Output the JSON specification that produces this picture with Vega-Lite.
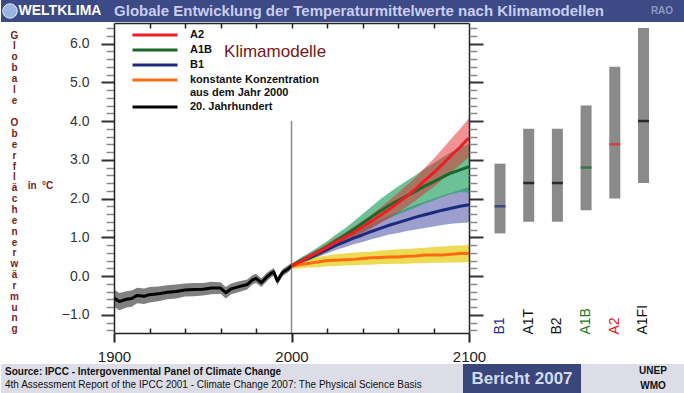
{
  "$schema": "https://vega.github.io/schema/vega-lite/v6.json",
  "padding": 0,
  "background": "#ffffff",
  "spacing": 0,
  "config": {
    "font": "Liberation Sans",
    "view": {"stroke": null},
    "concat": {"spacing": 0},
    "axis": {"labelFont": "Liberation Sans", "titleFont": "Liberation Sans"},
    "legend": {"labelFont": "Liberation Sans"}
  },
  "datasets": {
    "ts": [
      {"series":"20. Jahrhundert","year":1900,"mean":-0.57,"lo":-0.79,"hi":-0.35},
      {"series":"20. Jahrhundert","year":1903,"mean":-0.66,"lo":-0.88,"hi":-0.44},
      {"series":"20. Jahrhundert","year":1907,"mean":-0.60,"lo":-0.81,"hi":-0.39},
      {"series":"20. Jahrhundert","year":1910,"mean":-0.58,"lo":-0.79,"hi":-0.37},
      {"series":"20. Jahrhundert","year":1913,"mean":-0.50,"lo":-0.70,"hi":-0.30},
      {"series":"20. Jahrhundert","year":1917,"mean":-0.52,"lo":-0.72,"hi":-0.32},
      {"series":"20. Jahrhundert","year":1920,"mean":-0.48,"lo":-0.68,"hi":-0.28},
      {"series":"20. Jahrhundert","year":1925,"mean":-0.46,"lo":-0.65,"hi":-0.27},
      {"series":"20. Jahrhundert","year":1930,"mean":-0.42,"lo":-0.60,"hi":-0.24},
      {"series":"20. Jahrhundert","year":1935,"mean":-0.40,"lo":-0.58,"hi":-0.22},
      {"series":"20. Jahrhundert","year":1940,"mean":-0.36,"lo":-0.53,"hi":-0.19},
      {"series":"20. Jahrhundert","year":1945,"mean":-0.35,"lo":-0.52,"hi":-0.18},
      {"series":"20. Jahrhundert","year":1950,"mean":-0.34,"lo":-0.50,"hi":-0.18},
      {"series":"20. Jahrhundert","year":1955,"mean":-0.31,"lo":-0.47,"hi":-0.15},
      {"series":"20. Jahrhundert","year":1960,"mean":-0.31,"lo":-0.46,"hi":-0.16},
      {"series":"20. Jahrhundert","year":1963,"mean":-0.43,"lo":-0.58,"hi":-0.28},
      {"series":"20. Jahrhundert","year":1966,"mean":-0.33,"lo":-0.47,"hi":-0.19},
      {"series":"20. Jahrhundert","year":1970,"mean":-0.28,"lo":-0.42,"hi":-0.14},
      {"series":"20. Jahrhundert","year":1975,"mean":-0.22,"lo":-0.35,"hi":-0.09},
      {"series":"20. Jahrhundert","year":1978,"mean":-0.10,"lo":-0.22,"hi":0.02},
      {"series":"20. Jahrhundert","year":1980,"mean":-0.06,"lo":-0.18,"hi":0.06},
      {"series":"20. Jahrhundert","year":1983,"mean":-0.17,"lo":-0.28,"hi":-0.06},
      {"series":"20. Jahrhundert","year":1986,"mean":-0.03,"lo":-0.14,"hi":0.08},
      {"series":"20. Jahrhundert","year":1988,"mean":0.05,"lo":-0.05,"hi":0.15},
      {"series":"20. Jahrhundert","year":1990,"mean":0.11,"lo":0.01,"hi":0.21},
      {"series":"20. Jahrhundert","year":1992,"mean":-0.13,"lo":-0.23,"hi":-0.03},
      {"series":"20. Jahrhundert","year":1995,"mean":0.09,"lo":0.00,"hi":0.18},
      {"series":"20. Jahrhundert","year":1998,"mean":0.18,"lo":0.09,"hi":0.27},
      {"series":"20. Jahrhundert","year":2000,"mean":0.26,"lo":0.18,"hi":0.34},

      {"series":"B1","year":2000,"mean":0.26,"lo":0.21,"hi":0.31},
      {"series":"B1","year":2005,"mean":0.37,"lo":0.31,"hi":0.43},
      {"series":"B1","year":2010,"mean":0.46,"lo":0.39,"hi":0.53},
      {"series":"B1","year":2015,"mean":0.58,"lo":0.50,"hi":0.67},
      {"series":"B1","year":2020,"mean":0.68,"lo":0.58,"hi":0.78},
      {"series":"B1","year":2025,"mean":0.79,"lo":0.67,"hi":0.91},
      {"series":"B1","year":2030,"mean":0.88,"lo":0.74,"hi":1.02},
      {"series":"B1","year":2035,"mean":0.98,"lo":0.82,"hi":1.14},
      {"series":"B1","year":2040,"mean":1.06,"lo":0.88,"hi":1.24},
      {"series":"B1","year":2045,"mean":1.15,"lo":0.95,"hi":1.35},
      {"series":"B1","year":2050,"mean":1.23,"lo":1.01,"hi":1.45},
      {"series":"B1","year":2055,"mean":1.31,"lo":1.07,"hi":1.56},
      {"series":"B1","year":2060,"mean":1.38,"lo":1.11,"hi":1.65},
      {"series":"B1","year":2065,"mean":1.45,"lo":1.16,"hi":1.75},
      {"series":"B1","year":2070,"mean":1.52,"lo":1.20,"hi":1.84},
      {"series":"B1","year":2075,"mean":1.58,"lo":1.24,"hi":1.92},
      {"series":"B1","year":2080,"mean":1.64,"lo":1.28,"hi":2.00},
      {"series":"B1","year":2085,"mean":1.70,"lo":1.32,"hi":2.08},
      {"series":"B1","year":2090,"mean":1.75,"lo":1.35,"hi":2.15},
      {"series":"B1","year":2095,"mean":1.80,"lo":1.37,"hi":2.23},
      {"series":"B1","year":2100,"mean":1.84,"lo":1.38,"hi":2.30},

      {"series":"konstante Konzentration","year":2000,"mean":0.26,"lo":0.18,"hi":0.34},
      {"series":"konstante Konzentration","year":2005,"mean":0.30,"lo":0.20,"hi":0.40},
      {"series":"konstante Konzentration","year":2010,"mean":0.33,"lo":0.22,"hi":0.46},
      {"series":"konstante Konzentration","year":2015,"mean":0.36,"lo":0.23,"hi":0.49},
      {"series":"konstante Konzentration","year":2020,"mean":0.40,"lo":0.25,"hi":0.53},
      {"series":"konstante Konzentration","year":2025,"mean":0.41,"lo":0.26,"hi":0.56},
      {"series":"konstante Konzentration","year":2030,"mean":0.42,"lo":0.27,"hi":0.58},
      {"series":"konstante Konzentration","year":2035,"mean":0.43,"lo":0.28,"hi":0.60},
      {"series":"konstante Konzentration","year":2040,"mean":0.45,"lo":0.29,"hi":0.62},
      {"series":"konstante Konzentration","year":2045,"mean":0.47,"lo":0.29,"hi":0.63},
      {"series":"konstante Konzentration","year":2050,"mean":0.48,"lo":0.31,"hi":0.66},
      {"series":"konstante Konzentration","year":2055,"mean":0.49,"lo":0.31,"hi":0.67},
      {"series":"konstante Konzentration","year":2060,"mean":0.49,"lo":0.32,"hi":0.69},
      {"series":"konstante Konzentration","year":2065,"mean":0.51,"lo":0.32,"hi":0.70},
      {"series":"konstante Konzentration","year":2070,"mean":0.52,"lo":0.33,"hi":0.72},
      {"series":"konstante Konzentration","year":2075,"mean":0.54,"lo":0.33,"hi":0.73},
      {"series":"konstante Konzentration","year":2080,"mean":0.54,"lo":0.34,"hi":0.75},
      {"series":"konstante Konzentration","year":2085,"mean":0.54,"lo":0.34,"hi":0.76},
      {"series":"konstante Konzentration","year":2090,"mean":0.56,"lo":0.35,"hi":0.78},
      {"series":"konstante Konzentration","year":2095,"mean":0.58,"lo":0.35,"hi":0.79},
      {"series":"konstante Konzentration","year":2100,"mean":0.58,"lo":0.36,"hi":0.80},

      {"series":"A1B","year":2000,"mean":0.26,"lo":0.20,"hi":0.32},
      {"series":"A1B","year":2005,"mean":0.39,"lo":0.31,"hi":0.47},
      {"series":"A1B","year":2010,"mean":0.50,"lo":0.40,"hi":0.60},
      {"series":"A1B","year":2015,"mean":0.63,"lo":0.51,"hi":0.75},
      {"series":"A1B","year":2020,"mean":0.76,"lo":0.62,"hi":0.90},
      {"series":"A1B","year":2025,"mean":0.91,"lo":0.75,"hi":1.07},
      {"series":"A1B","year":2030,"mean":1.05,"lo":0.87,"hi":1.23},
      {"series":"A1B","year":2035,"mean":1.20,"lo":0.99,"hi":1.41},
      {"series":"A1B","year":2040,"mean":1.36,"lo":1.12,"hi":1.60},
      {"series":"A1B","year":2045,"mean":1.52,"lo":1.25,"hi":1.79},
      {"series":"A1B","year":2050,"mean":1.68,"lo":1.38,"hi":1.98},
      {"series":"A1B","year":2055,"mean":1.82,"lo":1.49,"hi":2.15},
      {"series":"A1B","year":2060,"mean":1.95,"lo":1.59,"hi":2.31},
      {"series":"A1B","year":2065,"mean":2.07,"lo":1.68,"hi":2.46},
      {"series":"A1B","year":2070,"mean":2.19,"lo":1.77,"hi":2.61},
      {"series":"A1B","year":2075,"mean":2.32,"lo":1.87,"hi":2.77},
      {"series":"A1B","year":2080,"mean":2.43,"lo":1.95,"hi":2.91},
      {"series":"A1B","year":2085,"mean":2.55,"lo":2.04,"hi":3.06},
      {"series":"A1B","year":2090,"mean":2.66,"lo":2.12,"hi":3.20},
      {"series":"A1B","year":2095,"mean":2.74,"lo":2.17,"hi":3.31},
      {"series":"A1B","year":2100,"mean":2.82,"lo":2.15,"hi":3.42},

      {"series":"A2","year":2000,"mean":0.26,"lo":0.21,"hi":0.31},
      {"series":"A2","year":2005,"mean":0.37,"lo":0.31,"hi":0.44},
      {"series":"A2","year":2010,"mean":0.50,"lo":0.42,"hi":0.58},
      {"series":"A2","year":2015,"mean":0.61,"lo":0.52,"hi":0.70},
      {"series":"A2","year":2020,"mean":0.74,"lo":0.64,"hi":0.84},
      {"series":"A2","year":2025,"mean":0.87,"lo":0.76,"hi":0.99},
      {"series":"A2","year":2030,"mean":0.99,"lo":0.86,"hi":1.12},
      {"series":"A2","year":2035,"mean":1.12,"lo":0.98,"hi":1.27},
      {"series":"A2","year":2040,"mean":1.27,"lo":1.11,"hi":1.43},
      {"series":"A2","year":2045,"mean":1.41,"lo":1.23,"hi":1.59},
      {"series":"A2","year":2050,"mean":1.56,"lo":1.36,"hi":1.76},
      {"series":"A2","year":2055,"mean":1.72,"lo":1.50,"hi":1.95},
      {"series":"A2","year":2060,"mean":1.89,"lo":1.64,"hi":2.14},
      {"series":"A2","year":2065,"mean":2.06,"lo":1.79,"hi":2.34},
      {"series":"A2","year":2070,"mean":2.25,"lo":1.95,"hi":2.55},
      {"series":"A2","year":2075,"mean":2.46,"lo":2.13,"hi":2.79},
      {"series":"A2","year":2080,"mean":2.66,"lo":2.30,"hi":3.02},
      {"series":"A2","year":2085,"mean":2.88,"lo":2.49,"hi":3.28},
      {"series":"A2","year":2090,"mean":3.11,"lo":2.68,"hi":3.54},
      {"series":"A2","year":2095,"mean":3.33,"lo":2.87,"hi":3.80},
      {"series":"A2","year":2100,"mean":3.57,"lo":3.07,"hi":4.07}
    ],
    "bars": [
      {"scen":"B1","lo":1.1,"hi":2.9,"best":1.8},
      {"scen":"A1T","lo":1.4,"hi":3.8,"best":2.4},
      {"scen":"B2","lo":1.4,"hi":3.8,"best":2.4},
      {"scen":"A1B","lo":1.7,"hi":4.4,"best":2.8},
      {"scen":"A2","lo":2.0,"hi":5.4,"best":3.4},
      {"scen":"A1FI","lo":2.4,"hi":6.4,"best":4.0}
    ]
  },
  "vconcat": [
    {
      "bounds": "flush",
      "spacing": 0,
      "hconcat": [
        {"width": 18, "height": 22, "view": {"fill": "#3c4a86", "stroke": null},
         "data": {"values": [{"k": "globe"}]},
         "mark": {"type": "point", "filled": true, "size": 210, "color": "#9db4e0", "stroke": "#e4eaf8", "strokeWidth": 1, "opacity": 1},
         "encoding": {}},
        {"width": 82, "height": 22, "view": {"fill": "#3c4a86", "stroke": null},
         "data": {"values": [{"t": "WELTKLIMA"}]},
         "mark": {"type": "text", "color": "#ffffff", "fontSize": 14, "fontWeight": "bold", "align": "center", "baseline": "middle"},
         "encoding": {"text": {"field": "t"}}},
        {"width": 516, "height": 22, "view": {"fill": "#3c4a86", "stroke": null},
         "data": {"values": [{"t": "Globale Entwicklung der Temperaturmittelwerte nach Klimamodellen"}]},
         "mark": {"type": "text", "color": "#c9cdf2", "fontSize": 15, "fontWeight": "bold", "align": "center", "baseline": "middle"},
         "encoding": {"text": {"field": "t"}}},
        {"width": 22, "height": 22, "view": {"fill": "#3c4a86", "stroke": null},
         "data": {"values": []},
         "mark": {"type": "text"},
         "encoding": {"text": {"field": "t"}}},
        {"width": 46, "height": 22, "view": {"fill": "#3c4a86", "stroke": null},
         "data": {"values": [{"t": "RAO"}]},
         "mark": {"type": "text", "color": "#8e98c4", "fontSize": 10, "fontWeight": "bold", "align": "center", "baseline": "middle"},
         "encoding": {"text": {"field": "t"}}}
      ]
    },
    {
      "bounds": "flush",
      "spacing": 0,
      "resolve": {"scale": {"color": "independent"}, "legend": {"color": "independent"}},
      "hconcat": [
        {
          "width": 468,
          "height": 310,
          "data": {"name": "ts"},
          "resolve": {"axis": {"x": "independent", "y": "independent"}},
          "layer": [
            {
              "transform": [{"filter": "datum.series === 'B1'"}],
              "mark": {"type": "area", "color": "#3a3f9c", "opacity": 0.5},
              "encoding": {
                "x": {"field": "year", "type": "quantitative", "scale": {"domain": [1900, 2100], "range": [113, 468], "nice": false, "zero": false},
                      "axis": {"orient": "bottom", "values": [1920,1940,1960,1980,2020,2040,2060,2080], "tickSize": -5, "tickWidth": 1.5, "tickColor": "#222222", "labels": false, "domain": false, "grid": false, "title": null, "zindex": 2}},
                "y": {"field": "lo", "type": "quantitative", "scale": {"domain": [-1.47, 6.53], "nice": false, "zero": false},
                      "axis": {"orient": "left", "offset": -113, "values": [-1.4,-1.2,-0.8,-0.6,-0.4,-0.2,0.2,0.4,0.6,0.8,1.2,1.4,1.6,1.8,2.2,2.4,2.6,2.8,3.2,3.4,3.6,3.8,4.2,4.4,4.6,4.8,5.2,5.4,5.6,5.8,6.2,6.4], "tickSize": 8, "tickWidth": 1.5, "tickColor": "#8a8a8a", "labels": false, "domain": false, "grid": false, "zindex": 2,
                               "title": ["O","b","e","r","f","l","ä","c","h","e","n","e","r","w","ä","r","m","u","n","g"],
                               "titleAngle": 0, "titleX": -100, "titleY": 99.7, "titleAlign": "center", "titleBaseline": "middle", "titleFontSize": 10, "titleFontWeight": "bold", "titleColor": "#7b1a1a", "titleLineHeight": 10.85}},
                "y2": {"field": "hi"}
              }
            },
            {
              "transform": [{"filter": "datum.series === 'A1B'"}],
              "mark": {"type": "area", "color": "#1fa060", "opacity": 0.65},
              "encoding": {
                "x": {"field": "year", "type": "quantitative", "scale": {"domain": [1900, 2100], "range": [113, 468], "nice": false, "zero": false},
                      "axis": {"orient": "top", "values": [1920,1940,1960,1980,2000,2020,2040,2060,2080], "tickSize": -5, "tickWidth": 1.5, "tickColor": "#222222", "labels": false, "domain": true, "domainColor": "#222222", "domainWidth": 1.5, "grid": false, "title": null, "zindex": 2}},
                "y": {"field": "lo", "type": "quantitative", "scale": {"domain": [-1.47, 6.53], "nice": false, "zero": false},
                      "axis": {"orient": "left", "offset": -113, "ticks": false, "labels": false, "domain": false, "grid": false, "title": "in\u00a0\u00a0°C", "titleAngle": 0, "titleX": -74, "titleY": 162, "titleAlign": "center", "titleBaseline": "middle", "titleFontSize": 10, "titleFontWeight": "bold", "titleColor": "#7b1a1a"}},
                "y2": {"field": "hi"}
              }
            },
            {
              "transform": [{"filter": "datum.series === 'A2'"}],
              "mark": {"type": "area", "color": "#e8262a", "opacity": 0.5},
              "encoding": {
                "x": {"field": "year", "type": "quantitative", "scale": {"domain": [1900, 2100], "range": [113, 468], "nice": false, "zero": false}, "axis": null},
                "y": {"field": "lo", "type": "quantitative", "scale": {"domain": [-1.47, 6.53], "nice": false, "zero": false},
                      "axis": {"orient": "right", "values": [-1,0,1,2,3,4,5,6], "tickSize": 14, "tickWidth": 2, "tickColor": "#333333", "labels": false, "domain": true, "domainColor": "#222222", "domainWidth": 1.5, "grid": false, "title": null, "zindex": 2}},
                "y2": {"field": "hi"}
              }
            },
            {
              "transform": [{"filter": "datum.series === 'konstante Konzentration'"}],
              "mark": {"type": "area", "color": "#e6cf1a", "opacity": 0.75},
              "encoding": {
                "x": {"field": "year", "type": "quantitative", "scale": {"domain": [1900, 2100], "range": [113, 468], "nice": false, "zero": false}, "axis": null},
                "y": {"field": "lo", "type": "quantitative", "scale": {"domain": [-1.47, 6.53], "nice": false, "zero": false},
                      "axis": {"orient": "right", "values": [-1.4,-1.2,-0.8,-0.6,-0.4,-0.2,0.2,0.4,0.6,0.8,1.2,1.4,1.6,1.8,2.2,2.4,2.6,2.8,3.2,3.4,3.6,3.8,4.2,4.4,4.6,4.8,5.2,5.4,5.6,5.8,6.2,6.4], "tickSize": 8, "tickWidth": 1.5, "tickColor": "#8a8a8a", "labels": false, "domain": false, "grid": false, "title": null, "zindex": 2}},
                "y2": {"field": "hi"}
              }
            },
            {
              "transform": [{"filter": "datum.series === '20. Jahrhundert'"}],
              "mark": {"type": "area", "color": "#808080", "opacity": 1},
              "encoding": {
                "x": {"field": "year", "type": "quantitative", "scale": {"domain": [1900, 2100], "range": [113, 468], "nice": false, "zero": false},
                      "axis": {"orient": "bottom", "values": [1900, 2000, 2100], "format": "d", "tickSize": 9, "tickWidth": 2, "tickColor": "#222222", "domain": true, "domainColor": "#222222", "domainWidth": 1.5, "labelFontSize": 15, "labelColor": "#222222", "labelPadding": 7, "labelFlush": false, "labelOverlap": false, "grid": false, "title": null, "zindex": 2}},
                "y": {"field": "lo", "type": "quantitative", "scale": {"domain": [-1.47, 6.53], "nice": false, "zero": false},
                      "axis": {"orient": "left", "offset": -113, "values": [-1,0,1,2,3,4,5,6], "format": ".1f", "tickSize": 13, "tickWidth": 2, "tickColor": "#333333", "domain": true, "domainColor": "#222222", "domainWidth": 1.5, "labelFontSize": 14, "labelColor": "#333333", "labelPadding": 12, "labelFlush": false, "grid": false, "zindex": 2,
                               "title": ["G","l","o","b","a","l","e"],
                               "titleAngle": 0, "titleX": -100, "titleY": 12, "titleAlign": "center", "titleBaseline": "middle", "titleFontSize": 10, "titleFontWeight": "bold", "titleColor": "#7b1a1a", "titleLineHeight": 10.85}},
                "y2": {"field": "hi"}
              }
            },
            {
              "data": {"values": [{"k": 1}]},
              "mark": {"type": "rule", "color": "#8a8a8a", "strokeWidth": 1.5},
              "encoding": {
                "x": {"datum": 2000, "type": "quantitative", "scale": {"domain": [1900, 2100], "range": [113, 468], "nice": false, "zero": false}, "axis": null},
                "y": {"datum": 4.0, "type": "quantitative", "scale": {"domain": [-1.47, 6.53], "nice": false, "zero": false}, "axis": null},
                "y2": {"datum": -1.47}
              }
            },
            {
              "mark": {"type": "line", "strokeWidth": 3, "strokeJoin": "round"},
              "encoding": {
                "x": {"field": "year", "type": "quantitative", "scale": {"domain": [1900, 2100], "range": [113, 468], "nice": false, "zero": false}, "axis": null},
                "y": {"field": "mean", "type": "quantitative", "scale": {"domain": [-1.47, 6.53], "nice": false, "zero": false}, "axis": null},
                "color": {
                  "field": "series", "type": "nominal",
                  "scale": {"domain": ["A2","A1B","B1","konstante Konzentration","20. Jahrhundert"], "range": ["#ee1d23","#19692b","#1c2a7d","#ff6a13","#000000"]},
                  "legend": {
                    "orient": "none", "legendX": 148, "legendY": 6, "title": null, "padding": 0,
                    "symbolType": "M-5,0H5", "symbolSize": 81, "symbolStrokeWidth": 3,
                    "labelOffset": 29, "labelFontSize": 11, "labelFontWeight": "bold", "labelColor": "#111111", "labelLimit": 300,
                    "rowPadding": 3,
                    "labelExpr": "datum.label === 'konstante Konzentration' ? ['konstante Konzentration', 'aus dem Jahr 2000'] : datum.label"
                  }
                }
              }
            },
            {
              "data": {"values": [{"label": "Klimamodelle"}]},
              "mark": {"type": "text", "align": "left", "baseline": "alphabetic", "fontSize": 17, "color": "#7a1515"},
              "encoding": {
                "x": {"datum": 1962, "type": "quantitative", "scale": {"domain": [1900, 2100], "range": [113, 468], "nice": false, "zero": false}, "axis": null},
                "y": {"datum": 5.65, "type": "quantitative", "scale": {"domain": [-1.47, 6.53], "nice": false, "zero": false}, "axis": null},
                "text": {"field": "label"}
              }
            }
          ]
        },
        {
          "width": 205.5,
          "height": 310,
          "data": {"name": "bars"},
          "layer": [
            {
              "mark": {"type": "bar", "color": "#8a8a8a"},
              "encoding": {
                "x": {"field": "scen", "type": "nominal", "sort": null,
                      "scale": {"type": "band", "paddingInner": 0.617, "paddingOuter": 0.889},
                      "axis": {"orient": "bottom", "labelAngle": -90, "labelAlign": "left", "labelBaseline": "middle", "labelPadding": 1, "ticks": false, "domain": false, "title": null, "labelFontSize": 14, "labelFont": "Liberation Sans",
                               "labelColor": {"condition": [{"test": "datum.value === 'B1'", "value": "#1f2d8a"}, {"test": "datum.value === 'A1B'", "value": "#1a7a2a"}, {"test": "datum.value === 'A2'", "value": "#ee1111"}], "value": "#111111"}}},
                "y": {"field": "lo", "type": "quantitative", "scale": {"domain": [-1.47, 6.53], "nice": false, "zero": false}, "axis": null},
                "y2": {"field": "hi"}
              }
            },
            {
              "mark": {"type": "tick", "thickness": 2.5, "size": 11},
              "encoding": {
                "x": {"field": "scen", "type": "nominal", "sort": null},
                "y": {"field": "best", "type": "quantitative"},
                "color": {"field": "scen", "type": "nominal",
                          "scale": {"domain": ["B1","A1T","B2","A1B","A2","A1FI"], "range": ["#1c2a7d","#000000","#000000","#19692b","#ee1d23","#000000"]},
                          "legend": null}
              }
            }
          ]
        }
      ]
    },
    {
      "bounds": "flush",
      "spacing": 0,
      "hconcat": [
        {
          "width": 462, "height": 29, "view": {"fill": "#dcdde7", "stroke": null},
          "title": {
            "text": "Source: IPCC -  Intergovenmental Panel of Climate Change",
            "subtitle": "4th Assessment Report of the IPCC 2001 - Climate Change 2007: The Physical Science Basis",
            "anchor": "start", "frame": "group", "orient": "top", "offset": -26, "dx": 4,
            "font": "Liberation Sans", "fontSize": 10, "fontWeight": "bold", "color": "#111111",
            "subtitleFont": "Liberation Sans", "subtitleFontSize": 10, "subtitleFontWeight": "normal", "subtitleColor": "#111111", "subtitlePadding": 3
          },
          "data": {"values": []},
          "mark": {"type": "text"},
          "encoding": {"text": {"field": "t"}}
        },
        {"width": 118, "height": 29, "view": {"fill": "#384679", "stroke": null},
         "data": {"values": [{"t": "Bericht 2007"}]},
         "mark": {"type": "text", "align": "center", "baseline": "middle", "fontSize": 17, "fontWeight": "bold", "color": "#d6daf2"},
         "encoding": {"text": {"field": "t"}}},
        {"width": 46, "height": 29, "view": {"fill": "#dcdde7", "stroke": null},
         "data": {"values": []}, "mark": {"type": "text"}, "encoding": {"text": {"field": "t"}}},
        {"width": 52, "height": 29, "view": {"fill": "#dcdde7", "stroke": null},
         "data": {"values": [{"line": "a", "t": "UNEP"}, {"line": "b", "t": "WMO"}]},
         "mark": {"type": "text", "align": "center", "baseline": "middle", "fontSize": 10, "fontWeight": "bold", "color": "#111111"},
         "encoding": {"y": {"field": "line", "type": "nominal", "scale": {"domain": ["a","b"]}, "axis": null}, "text": {"field": "t"}}},
        {"width": 6, "height": 29, "view": {"fill": "#dcdde7", "stroke": null},
         "data": {"values": []}, "mark": {"type": "text"}, "encoding": {"text": {"field": "t"}}}
      ]
    }
  ]
}
